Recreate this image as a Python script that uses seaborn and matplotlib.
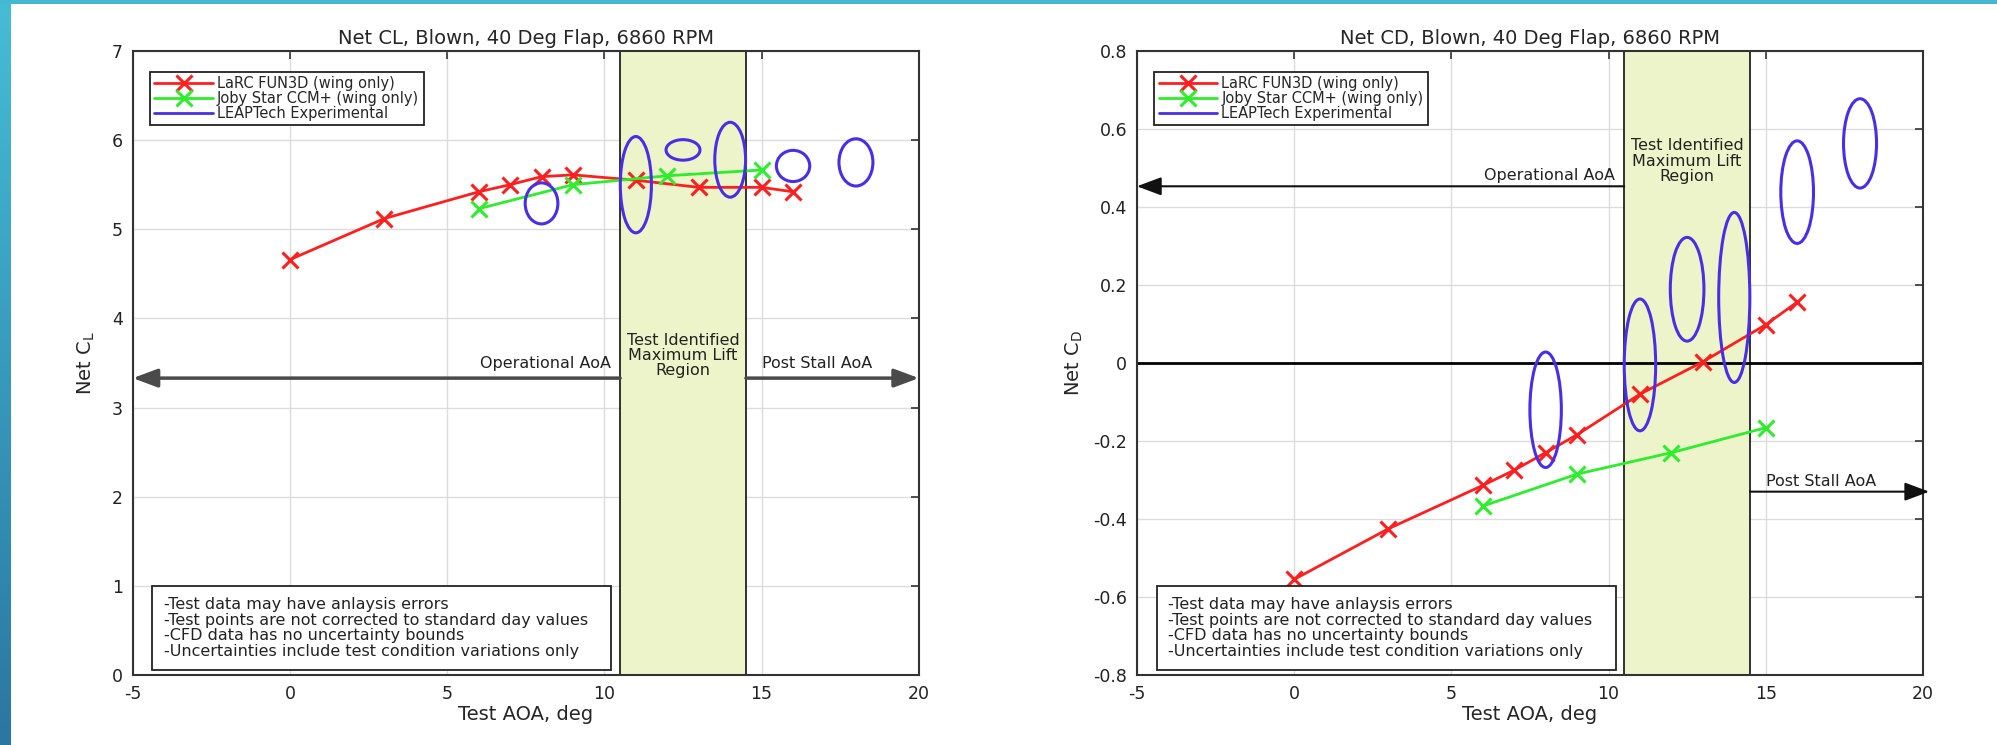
import numpy as np
import matplotlib
matplotlib.use('Agg')
import matplotlib.pyplot as plt
import seaborn as sns
from matplotlib.patches import Ellipse, Rectangle
from matplotlib.lines import Line2D
from matplotlib.colors import LinearSegmentedColormap

# ================================= #
# data
# ================================= #

aoa_fun3d = [0, 3, 6, 7, 8, 9, 11, 13, 15, 16]
cl_fun3d = [4.66, 5.12, 5.42, 5.50, 5.59, 5.61, 5.55, 5.47, 5.47, 5.42]
cd_fun3d = [-0.555, -0.425, -0.314, -0.275, -0.23, -0.184, -0.08, 0.003, 0.098, 0.156]

aoa_joby = [6, 9, 12, 15]
cl_joby = [5.23, 5.50, 5.60, 5.665]
cd_joby = [-0.367, -0.285, -0.23, -0.166]

# LEAPTech test points, drawn as uncertainty ellipses (centre, full width, full height)
aoa_exp = [8, 11, 12.5, 14, 16, 18]
cl_exp = [5.29, 5.50, 5.89, 5.78, 5.71, 5.75]
cl_exp_w = [1.04, 0.99, 1.08, 0.98, 1.06, 1.08]
cl_exp_h = [0.46, 1.08, 0.23, 0.84, 0.35, 0.53]
cd_exp = [-0.12, -0.005, 0.189, 0.168, 0.438, 0.563]
cd_exp_w = [1.0, 1.0, 1.07, 0.99, 1.04, 1.05]
cd_exp_h = [0.296, 0.338, 0.266, 0.436, 0.263, 0.229]

max_lift_region = [10.5, 14.5]
x_ticks = [-5, 0, 5, 10, 15, 20]
cl_ticks = [0, 1, 2, 3, 4, 5, 6, 7]
cd_ticks = [-0.8, -0.6, -0.4, -0.2, 0, 0.2, 0.4, 0.6, 0.8]
cd_ticklabels = ['-0.8', '-0.6', '-0.4', '-0.2', '0', '0.2', '0.4', '0.6', '0.8']

# y levels of the AoA arrows (operational, post stall)
cl_arrow_y = [3.33, 3.33]
cd_arrow_y = [0.453, -0.33]

legend_labels = ['LaRC FUN3D (wing only)', 'Joby Star CCM+ (wing only)',
                 'LEAPTech Experimental']
notes = ('-Test data may have anlaysis errors\n'
         '-Test points are not corrected to standard day values\n'
         '-CFD data has no uncertainty bounds\n'
         '-Uncertainties include test condition variations only')

RED = '#ff1f1f'
GREEN = '#2ded2d'
BLUE = '#4a2ee6'
SHADE = '#eef4c9'

# INITIALIZE A FEW THINGS
sns.set_style('white')
plt.rcParams['font.family'] = ['DejaVu Sans']
plt.rcParams['axes.unicode_minus'] = False
plt.rcParams['mathtext.default'] = 'regular'

fig = plt.figure(figsize=(19.97, 7.45), dpi=100)
ax_l = fig.add_axes([0.0665, 0.094, 0.3936, 0.8376])
ax_r = fig.add_axes([0.5693, 0.094, 0.3936, 0.8376])

# slide decoration: teal strip on the left and along the top
strip = fig.add_axes([0, 0, 11 / 1997, 1])
strip.imshow(np.linspace(0, 1, 256)[:, None], aspect='auto',
             cmap=LinearSegmentedColormap.from_list('s', ['#46bdd5', '#2a77a1']))
strip.axis('off')
fig.add_artist(Rectangle((0, 1 - 4 / 745), 1, 4 / 745, transform=fig.transFigure,
                         color='#44b8d2', lw=0))


def style_axes(ax, ylim, yticks, yticklabels):
    ax.set(xlim=[-5, 20], ylim=ylim, xticks=x_ticks, yticks=yticks)
    ax.set_yticklabels(yticklabels)
    ax.grid(True, color='#dcdcdc', lw=1)
    ax.set_axisbelow(True)
    ax.tick_params(direction='in', length=6, width=1.2, top=True, right=True,
                   labelsize=12.5, color='#333333', labelcolor='#222222', pad=7)
    for s in ax.spines.values():
        s.set_color('#333333')
        s.set_linewidth(1.5)
    ax.set_xlabel('Test AOA, deg', fontsize=14, labelpad=2)
    # maximum lift band
    ax.axvspan(max_lift_region[0], max_lift_region[1], facecolor=SHADE,
               edgecolor='#222222', lw=1.3, zorder=1.5)


def draw_data(ax, y_fun3d, y_joby, y_exp, w_exp, h_exp):
    sns.lineplot(x=aoa_fun3d, y=y_fun3d, color=RED, lw=2, marker='x', markersize=11,
                 markeredgewidth=2.2, markeredgecolor=RED, estimator=None, ax=ax,
                 label=legend_labels[0], zorder=4)
    sns.lineplot(x=aoa_joby, y=y_joby, color=GREEN, lw=2, marker='x', markersize=11,
                 markeredgewidth=2.2, markeredgecolor=GREEN, estimator=None, ax=ax,
                 label=legend_labels[1], zorder=4)
    for xc, yc, w, h in zip(aoa_exp, y_exp, w_exp, h_exp):
        ax.add_patch(Ellipse((xc, yc), w, h, fill=False, edgecolor=BLUE, lw=2.2, zorder=5))

    handles, labels = ax.get_legend_handles_labels()
    handles.append(Line2D([], [], color=BLUE, lw=2))
    labels.append(legend_labels[2])
    leg = ax.legend(handles, labels, loc='upper left', fontsize=10.5, handlelength=4,
                    handletextpad=0.3, borderpad=0.3, labelspacing=0.0, numpoints=1,
                    fancybox=False, framealpha=1, edgecolor='#222222',
                    bbox_to_anchor=(0.022, 0.967), borderaxespad=0)
    leg.get_frame().set_linewidth(1.3)

    # notes box
    ax.add_patch(Rectangle((0.025, 0.008), 0.584, 0.1346, transform=ax.transAxes,
                           facecolor='white', edgecolor='#222222', lw=1.3, zorder=6))
    ax.text(0.040, 0.075, notes, transform=ax.transAxes, ha='left', va='center',
            fontsize=11.5, linespacing=1.05, color='#222222', zorder=7)


def arrow(ax, x0, x1, y, color, lw):
    ax.annotate('', xy=(x1, y), xytext=(x0, y), annotation_clip=False,
                arrowprops=dict(arrowstyle='-|>,head_length=0.75,head_width=0.28',
                                color=color, lw=lw, shrinkA=0, shrinkB=0,
                                mutation_scale=20), zorder=3)


# ================================= #
# NET CL
# ================================= #

style_axes(ax_l, [0, 7], cl_ticks, [str(t) for t in cl_ticks])
draw_data(ax_l, cl_fun3d, cl_joby, cl_exp, cl_exp_w, cl_exp_h)
ax_l.set_title('Net CL, Blown, 40 Deg Flap, 6860 RPM', fontsize=14, pad=5)
ax_l.set_ylabel('Net C$_{L}$', fontsize=14)
ax_l.yaxis.set_label_coords(-0.045, 0.5)

arrow(ax_l, max_lift_region[0], -5, cl_arrow_y[0], '#4a4a4a', 2.5)
arrow(ax_l, max_lift_region[1], 20, cl_arrow_y[1], '#4a4a4a', 2.5)
ax_l.text(10.2, 3.49, 'Operational AoA', ha='right', va='center', fontsize=11.5,
          color='#222222')
ax_l.text(15.0, 3.49, 'Post Stall AoA', ha='left', va='center', fontsize=11.5,
          color='#222222')
ax_l.text(12.5, 3.58, 'Test Identified\nMaximum Lift\nRegion', ha='center',
          va='center', fontsize=11.5, linespacing=1.0, color='#222222', zorder=3)

# ================================= #
# NET CD
# ================================= #

style_axes(ax_r, [-0.8, 0.8], cd_ticks, cd_ticklabels)
ax_r.axhline(0, color='black', lw=2, zorder=2)
draw_data(ax_r, cd_fun3d, cd_joby, cd_exp, cd_exp_w, cd_exp_h)
ax_r.set_title('Net CD, Blown, 40 Deg Flap, 6860 RPM', fontsize=14, pad=5)
ax_r.set_ylabel('Net C$_{D}$', fontsize=14)
ax_r.yaxis.set_label_coords(-0.066, 0.5)

arrow(ax_r, max_lift_region[0], -5, cd_arrow_y[0], '#111111', 1.5)
arrow(ax_r, max_lift_region[1], 20.2, cd_arrow_y[1], '#111111', 1.5)
ax_r.text(10.2, 0.48, 'Operational AoA', ha='right', va='center', fontsize=11.5,
          color='#222222')
ax_r.text(15.0, -0.303, 'Post Stall AoA', ha='left', va='center', fontsize=11.5,
          color='#222222')
ax_r.text(12.5, 0.517, 'Test Identified\nMaximum Lift\nRegion', ha='center',
          va='center', fontsize=11.5, linespacing=1.05, color='#222222', zorder=3)

fig.savefig('out.png', dpi=100)
